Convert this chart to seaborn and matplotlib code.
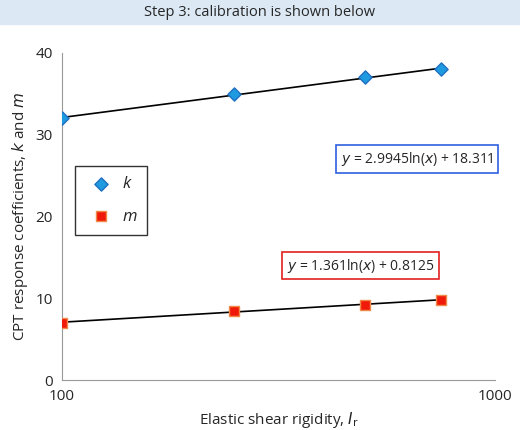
import matplotlib
matplotlib.use('Agg')
import matplotlib.pyplot as plt
import numpy as np
import seaborn as sns

rigidity = [100, 250, 500, 750]
k_vals = [32.0, 35.0, 37.0, 38.0]
m_vals = [7.0, 8.4, 9.2, 9.8]
k_fit = (2.9945, 18.311)
m_fit = (1.361, 0.8125)

sns.set_style('white')
plt.rcParams['font.family'] = ['Open Sans', 'DejaVu Sans']

fig = plt.figure(figsize=(5.2, 4.3), dpi=100)
fig.patches.append(plt.Rectangle((0.0, 0.945), 1.0, 0.055, transform=fig.transFigure,
                                 color='#dce9f5', zorder=0))
fig.text(0.5, 0.972, 'Step 3: calibration is shown below', ha='center', va='center', fontsize=10.5)
ax = fig.add_axes([0.119, 0.116, 0.833, 0.761])

xs = np.linspace(100, 750, 100)
for a, b in (k_fit, m_fit):
    ax.plot(xs, a * np.log(xs) + b, color='black', lw=1.2, zorder=1)

sns.scatterplot(x=rigidity, y=k_vals, marker='D', color='#1e9be0', edgecolor='#1e6fc0',
                s=45, linewidth=1, ax=ax, zorder=3, label='k')
sns.scatterplot(x=rigidity, y=m_vals, marker='s', color='#f01a0a', edgecolor='#f08a4a',
                s=45, linewidth=1, ax=ax, zorder=3, label='m')

ax.set_xscale('log')
ax.set_xlim(100, 1000)
ax.set_ylim(0, 40)
ax.set_xticks([100, 1000])
ax.set_xticklabels(['100', '1000'])
ax.minorticks_off()
ax.set_yticks([0, 10, 20, 30, 40])
ax.tick_params(direction='out', length=3, color='#888888', labelsize=11)
for s in ['top', 'right']:
    ax.spines[s].set_visible(False)
for s in ['left', 'bottom']:
    ax.spines[s].set_color('#999999')
ax.set_xlabel('Elastic shear rigidity, $\\it{I}_{\\rm r}$', fontsize=11)
ax.set_ylabel('CPT response coefficients, $\\it{k}$ and $\\it{m}$', fontsize=11)

leg = ax.legend(loc='upper left', bbox_to_anchor=(0.01, 0.68), fontsize=12,
                frameon=True, fancybox=False, edgecolor='black', handletextpad=0.3,
                labelspacing=1.0, borderpad=0.6)
for t in leg.get_texts():
    t.set_fontstyle('italic')

ax.text(0.82, 0.675, '$\\it{y}$ = 2.9945ln($\\it{x}$) + 18.311', transform=ax.transAxes,
        ha='center', va='center', fontsize=10,
        bbox=dict(boxstyle='square,pad=0.35', fc='white', ec='#3060e0', lw=1.2))
ax.text(0.69, 0.35, '$\\it{y}$ = 1.361ln($\\it{x}$) + 0.8125', transform=ax.transAxes,
        ha='center', va='center', fontsize=10,
        bbox=dict(boxstyle='square,pad=0.35', fc='white', ec='#e02020', lw=1.2))

fig.savefig('out.png', dpi=100)
